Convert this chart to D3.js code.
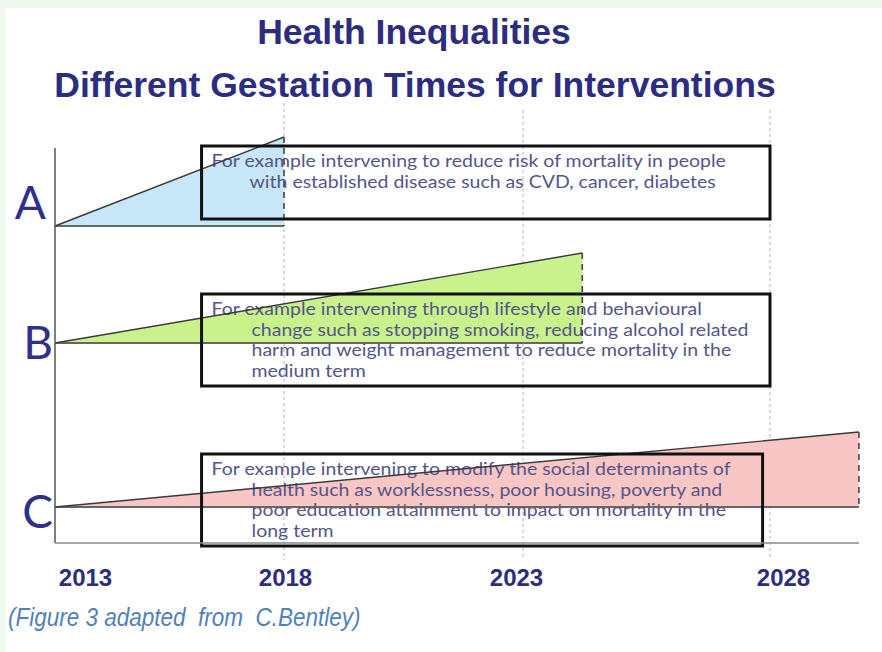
<!DOCTYPE html>
<html>
<head>
<meta charset="utf-8">
<script src="https://d3js.org/d3.v7.min.js"></script>
<style>
  html, body { margin: 0; padding: 0; background: #eff8ef; }
  svg { display: block; }
</style>
</head>
<body>
<div id="chart"></div>
<script>
// rows of the figure
const rowNames = ["A", "B", "C"];
const startYear = [2013, 2013, 2013];
const endYear = [2018, 2024.2, 2029.8];
const baseLevel = [79.25, 50, 9];      // level where each wedge starts
const peakLevel = [101.5, 72.5, 27.75]; // level reached at the end year
const letterLevel = [85, 50, 7.75];

// text boxes
const boxFrom = [2016.2, 2016.2, 2016.2];
const boxTo = [2028, 2028, 2027.85];
const boxTop = [99.25, 62.25, 22.25];
const boxBottom = [81, 39.25, -0.75];
const boxText = [
    ["For example intervening to reduce risk of mortality in people",
     "with established disease such as CVD, cancer, diabetes"],
    ["For example intervening through lifestyle and behavioural",
     "change such as stopping smoking, reducing alcohol related",
     "harm and weight management to reduce mortality in the",
     "medium term"],
    ["For example intervening to modify the social determinants of",
     "health such as worklessness, poor housing, poverty and",
     "poor education attainment to impact on mortality in the",
     "long term"]
];
const fills = ["#c7e6f8", "#c9f28c", "#f9c6c6"];

// axis
const years = [2013, 2018, 2023, 2028];
const axisEndYear = 2029.8;
const title1 = "Health Inequalities";
const title2 = "Different Gestation Times for Interventions";
const caption = "(Figure 3 adapted  from  C.Bentley)";

//chart dimensions
const width = 882, height = 652;

const svg = d3.select("#chart").append("svg").attr("width", width).attr("height", height);

// white slide area
svg.append("rect").attr("x", 5).attr("y", 8).attr("width", width - 5).attr("height", height - 8).attr("fill", "#ffffff");

//scales
const x = d3.scaleLinear().domain(years).range([55, 284, 523, 770]);
const y = d3.scaleLinear().domain([0, 100]).range([543, 143]);

//titles
svg.append("text").attr("x", 414).attr("y", 44).attr("text-anchor", "middle")
    .style("font-family", "Liberation Sans, Arial, sans-serif").style("font-weight", "bold")
    .style("font-size", "35.5px").attr("fill", "#2c2c80").text(title1);
svg.append("text").attr("x", 415).attr("y", 97).attr("text-anchor", "middle")
    .style("font-family", "Liberation Sans, Arial, sans-serif").style("font-weight", "bold")
    .style("font-size", "35.5px").attr("fill", "#2c2c80").text(title2);

//gridlines
svg.append("g").selectAll("line").data(years.slice(1)).enter().append("line")
    .attr("x1", d => x(d)).attr("x2", d => x(d))
    .attr("y1", d => d === 2018 ? 103 : 110).attr("y2", 560)
    .attr("stroke", "#c9aab4").attr("stroke-width", 1).attr("stroke-dasharray", "3,3");

const rows = rowNames.map((name, i) => ({
    name, i,
    x0: x(startYear[i]), x1: x(endYear[i]),
    yb: y(baseLevel[i]), yt: y(peakLevel[i])
}));

//wedges
svg.append("g").selectAll("path").data(rows).enter().append("path")
    .attr("d", d => `M${d.x0},${d.yb}L${d.x1},${d.yt}L${d.x1},${d.yb}Z`)
    .attr("fill", d => fills[d.i]);

//text in boxes (Calibri-like, stretched a bit to match the slide)
const tg = svg.append("g");
rows.forEach(d => {
    const lines = boxText[d.i];
    const top = y(boxTop[d.i]);
    const left = x(boxFrom[d.i]);
    lines.forEach((ln, j) => {
        let tx = j === 0 ? left + 10 : left + (d.i === 0 ? 48 : 50);
        let ty = top + 21 + j * 20.5;
        tg.append("text")
            .attr("transform", `translate(${tx}, ${ty}) scale(1.16, 1)`)
            .style("font-family", "Lato, 'Open Sans', sans-serif")
            .style("font-size", "16.8px")
            .attr("fill", "#55558a")
            .text(ln);
    });
});

//baselines, slopes and dashed ends
const lg = svg.append("g");
lg.selectAll(".base").data(rows).enter().append("line")
    .attr("x1", d => d.x0).attr("x2", d => d.x1).attr("y1", d => d.yb).attr("y2", d => d.yb)
    .attr("stroke", "#666").attr("stroke-width", 1.8);
lg.selectAll(".slope").data(rows).enter().append("line")
    .attr("x1", d => d.x0).attr("x2", d => d.x1).attr("y1", d => d.yb).attr("y2", d => d.yt)
    .attr("stroke", "#3a3a3a").attr("stroke-width", 1.4);
lg.selectAll(".end").data(rows).enter().append("line")
    .attr("x1", d => d.x1).attr("x2", d => d.x1).attr("y1", d => d.yt).attr("y2", d => d.yb)
    .attr("stroke", "#444").attr("stroke-width", 1.6).attr("stroke-dasharray", "6,5");

//boxes
svg.append("g").selectAll("rect").data(rows).enter().append("rect")
    .attr("x", d => x(boxFrom[d.i])).attr("y", d => y(boxTop[d.i]))
    .attr("width", d => x(boxTo[d.i]) - x(boxFrom[d.i]))
    .attr("height", d => y(boxBottom[d.i]) - y(boxTop[d.i]))
    .attr("fill", "none").attr("stroke", "#111").attr("stroke-width", 3);

//row letters
svg.append("g").selectAll("text").data(rows).enter().append("text")
    .attr("x", d => d.name === "A" ? 46 : 53).attr("y", d => y(letterLevel[d.i])).attr("dy", "0.35em")
    .attr("text-anchor", "end")
    .style("font-family", "Lato, 'Open Sans', sans-serif").style("font-size", "46px")
    .attr("fill", "#2f2f8c").text(d => d.name);

//axes
svg.append("line").attr("x1", x(2013)).attr("x2", x(2013)).attr("y1", y(98.75)).attr("y2", y(0))
    .attr("stroke", "#555").attr("stroke-width", 1.5);
svg.append("line").attr("x1", x(2013)).attr("x2", x(axisEndYear)).attr("y1", y(0)).attr("y2", y(0))
    .attr("stroke", "#888").attr("stroke-width", 1.5);

const tickNudge = {2013: 30, 2018: 1, 2023: -7, 2028: 13};
const xAxis = svg.append("g").attr("transform", `translate(0, ${y(0)})`)
    .call(d3.axisBottom(x).tickValues(years).tickFormat(d3.format("d")).tickSize(0).tickPadding(26));
xAxis.select(".domain").remove();
xAxis.selectAll("text")
    .attr("dx", d => tickNudge[d])
    .style("font-family", "Liberation Sans, Arial, sans-serif").style("font-weight", "bold")
    .style("font-size", "24px").attr("fill", "#2c2c80");

//caption
svg.append("text").attr("transform", "translate(8, 626) scale(0.9, 1)")
    .style("font-family", "'Liberation Sans', Arial, sans-serif")
    .style("font-style", "italic").style("font-size", "25px").style("white-space", "pre")
    .attr("fill", "#4f81bd").text(caption);
</script>
</body>
</html>
